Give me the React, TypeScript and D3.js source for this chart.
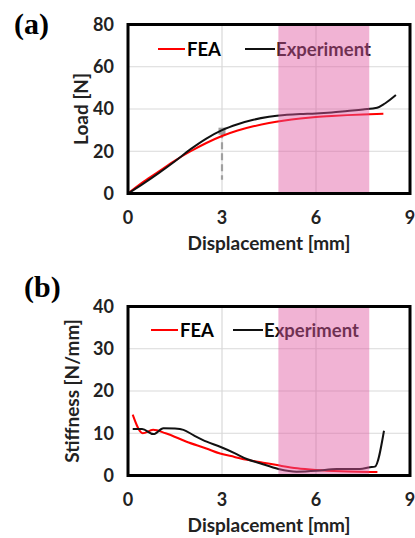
import React from "react";
import { scaleLinear, line, curveMonotoneX } from "d3";

// ---- data ----
const xTicks = [0, 3, 6, 9];
const loadTicks = [0, 20, 40, 60, 80];
const stiffTicks = [0, 10, 20, 30, 40];

const bandRange = [4.8, 7.7];

const feaLoadX = [0, 0.5, 1, 1.5, 2, 2.5, 3, 3.5, 4, 4.5, 5, 5.5, 6, 6.5, 7, 7.5, 8.15];
const feaLoadY = [0, 5.6, 10.6, 15.6, 20, 23.9, 27.2, 29.8, 31.8, 33.4, 34.6, 35.5, 36.2, 36.7, 37.1, 37.4, 37.7];

const expLoadX = [0, 0.5, 1, 1.5, 2, 2.5, 3, 3.5, 4, 4.5, 5, 5.5, 6, 6.5, 7, 7.5, 7.95, 8.2, 8.55];
const expLoadY = [0, 4.8, 9.9, 15.3, 21, 26, 30, 32.8, 34.9, 36.3, 37.2, 37.6, 37.9, 38.4, 39.1, 39.8, 40.6, 42.6, 46.6];

const feaStiffX = [0.15, 0.47, 0.8, 1.2, 1.87, 2.5, 2.94, 3.4, 3.8, 4.2, 4.8, 5.4, 6.0, 6.8, 7.7, 7.96];
const feaStiffY = [14.4, 10.0, 10.8, 10.0, 8.0, 6.4, 5.2, 4.4, 3.7, 3.2, 2.4, 1.7, 1.3, 1.0, 0.85, 0.8];

const expStiffX = [0.15, 0.45, 0.81, 1.13, 1.5, 1.77, 2.1, 2.51, 2.94, 3.4, 3.79, 4.21, 4.8, 5.38, 6.02, 6.66, 7.4, 7.72, 7.88, 8.17];
const expStiffY = [11.0, 11.0, 9.8, 11.2, 11.1, 10.8, 9.5, 8.0, 6.8, 5.3, 3.9, 2.9, 1.55, 0.9, 1.1, 1.55, 1.55, 1.95, 2.1, 10.6];

// gray marker on the load curve at 3 mm
const markerX = 3;
const markerY = 29.5;
const markerDashEnd = 6.5;

const FONT = "Lato, 'Open Sans', sans-serif";

type Pt = [number, number];
const zip = (xs: number[], ys: number[]): Pt[] => xs.map((x, i) => [x, ys[i]]);

interface PanelProps {
  label: string;
  top: number;
  bottom: number;
  yMax: number;
  yTicks: number[];
  yTitle: string;
  yTitleX: number;
  fea: Pt[];
  exp: Pt[];
  legendX: number;
  legendY: number;
  legendGap: number;
  labelX: number;
  labelY: number;
  marker?: boolean;
}

function Panel(p: PanelProps) {
  const x = scaleLinear().domain([0, 9]).range([128, 410]);
  const y = scaleLinear().domain([0, p.yMax]).range([p.bottom, p.top]);
  const path = line<Pt>()
    .x((d) => x(d[0]))
    .y((d) => y(d[1]))
    .curve(curveMonotoneX);

  return (
    <g>
      <text x={p.labelX} y={p.labelY} fontFamily="'Liberation Serif', serif" fontWeight="bold" fontSize={30}>
        {p.label}
      </text>

      {/* grid */}
      {p.yTicks.slice(1, -1).map((t) => (
        <line key={`gy${t}`} x1={x(0)} x2={x(9)} y1={y(t)} y2={y(t)} stroke="#d9d9d9" strokeWidth={1.2} />
      ))}
      {xTicks.slice(1, -1).map((t) => (
        <line key={`gx${t}`} x1={x(t)} x2={x(t)} y1={y(0)} y2={y(p.yMax)} stroke="#d9d9d9" strokeWidth={1.2} />
      ))}

      {/* gray marker */}
      {p.marker && (
        <g>
          <line
            x1={x(markerX)}
            x2={x(markerX)}
            y1={y(markerY)}
            y2={y(markerDashEnd)}
            stroke="#a0a0a0"
            strokeWidth={2.2}
            strokeDasharray="7,4"
          />
          <rect x={x(markerX) - 3.5} y={y(markerY) - 3.5} width={7} height={7} fill="#a0a0a0" />
        </g>
      )}

      {/* series */}
      <path d={path(p.fea) ?? ""} fill="none" stroke="#ff0000" strokeWidth={2} />
      <path d={path(p.exp) ?? ""} fill="none" stroke="#111" strokeWidth={2} />

      {/* legend */}
      <line x1={p.legendX} x2={p.legendX + 27} y1={p.legendY} y2={p.legendY} stroke="#ff0000" strokeWidth={2} />
      <text x={p.legendX + 29} y={p.legendY} dy="0.36em" fontFamily={FONT} fontWeight="bold" fontSize={18.5}>
        FEA
      </text>
      <line
        x1={p.legendX + p.legendGap}
        x2={p.legendX + p.legendGap + 30}
        y1={p.legendY}
        y2={p.legendY}
        stroke="#111"
        strokeWidth={2}
      />
      <text
        x={p.legendX + p.legendGap + 31}
        y={p.legendY}
        dy="0.36em"
        fontFamily={FONT}
        fontWeight="bold"
        fontSize={18.5}
        fill="#111"
      >
        Experiment
      </text>

      {/* highlighted region */}
      <rect
        x={x(bandRange[0])}
        y={y(p.yMax)}
        width={x(bandRange[1]) - x(bandRange[0])}
        height={y(0) - y(p.yMax)}
        fill="#e0579f"
        fillOpacity={0.45}
      />

      {/* frame */}
      <rect
        x={x(0)}
        y={y(p.yMax)}
        width={x(9) - x(0)}
        height={y(0) - y(p.yMax)}
        fill="none"
        stroke="#000"
        strokeWidth={3}
      />

      {/* tick labels */}
      {p.yTicks.map((t) => (
        <text
          key={`ty${t}`}
          x={114}
          y={y(t)}
          dy="0.36em"
          textAnchor="end"
          fontFamily={FONT}
          fontWeight="bold"
          fontSize={18}
          fill="#222"
        >
          {t}
        </text>
      ))}
      {xTicks.map((t) => (
        <text
          key={`tx${t}`}
          x={x(t)}
          y={y(0) + 24}
          dy="0.36em"
          textAnchor="middle"
          fontFamily={FONT}
          fontWeight="bold"
          fontSize={18}
          fill="#222"
        >
          {t}
        </text>
      ))}

      {/* axis titles */}
      <text
        x={269}
        y={y(0) + 50}
        dy="0.36em"
        textAnchor="middle"
        fontFamily={FONT}
        fontWeight="bold"
        fontSize={19}
        fill="#222"
      >
        Displacement [mm]
      </text>
      <text
        transform={`translate(${p.yTitleX},${(p.top + p.bottom) / 2}) rotate(-90)`}
        dy="0.36em"
        textAnchor="middle"
        fontFamily={FONT}
        fontWeight="bold"
        fontSize={19}
        fill="#222"
      >
        {p.yTitle}
      </text>
    </g>
  );
}

export default function App() {
  return (
    <svg
      width={415}
      height={538}
      viewBox="0 0 415 538"
      style={{ position: "absolute", left: 0, top: 0, background: "#fff" }}
    >
      <rect width={415} height={538} fill="#fff" />
      <Panel
        label="(a)"
        labelX={14}
        labelY={34}
        top={24.5}
        bottom={193.5}
        yMax={80}
        yTicks={loadTicks}
        yTitle="Load [N]"
        yTitleX={81}
        fea={zip(feaLoadX, feaLoadY)}
        exp={zip(expLoadX, expLoadY)}
        legendX={158}
        legendY={49}
        legendGap={87}
        marker
      />
      <Panel
        label="(b)"
        labelX={24}
        labelY={297}
        top={306.5}
        bottom={475.5}
        yMax={40}
        yTicks={stiffTicks}
        yTitle="Stiffness [N/mm]"
        yTitleX={72}
        fea={zip(feaStiffX, feaStiffY)}
        exp={zip(expStiffX, expStiffY)}
        legendX={151}
        legendY={330}
        legendGap={82}
      />
    </svg>
  );
}
